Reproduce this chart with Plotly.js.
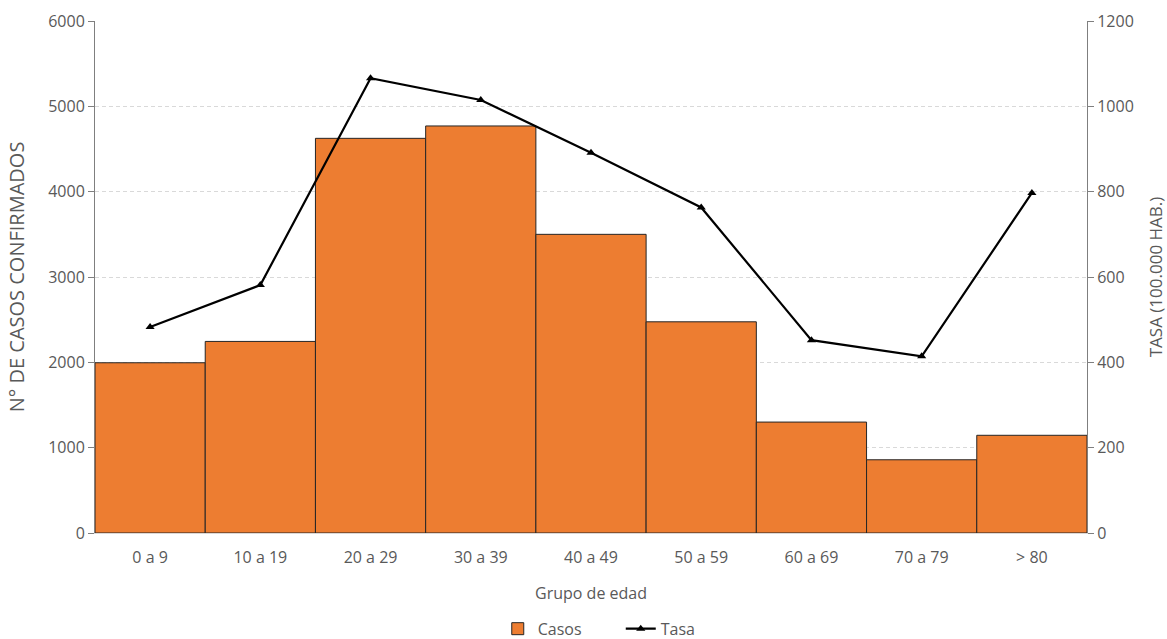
<!DOCTYPE html>
<html>
<head>
<meta charset="utf-8">
<script src="https://cdn.plot.ly/plotly-3.0.1.min.js"></script>
<style>html,body{margin:0;padding:0;background:#fff;}#chart{width:1167px;height:639px;}</style>
</head>
<body>
<div id="chart"></div>
<script>
var categories = ["0 a 9","10 a 19","20 a 29","30 a 39","40 a 49","50 a 59","60 a 69","70 a 79","> 80"];
var casos = [1995, 2245, 4625, 4770, 3500, 2475, 1300, 858, 1145];
var tasa = [483, 581, 1066, 1015, 891, 763, 452, 414, 797];
var leftTicks = [0,1000,2000,3000,4000,5000,6000];
var rightTicks = [0,200,400,600,800,1000,1200];

var fontFam = "Open Sans, Liberation Sans, sans-serif";
var grey = "#595959";

var traces = [
  {type:"bar", name:"Casos", x:categories, y:casos,
   marker:{color:"#ED7D31", line:{color:"#262626", width:1}}, yaxis:"y"},
  {type:"scatter", mode:"lines+markers", name:"Tasa", x:categories, y:tasa,
   line:{color:"#000", width:2.2}, marker:{symbol:"triangle-up", size:8, color:"#000"}, yaxis:"y2"}
];

var layout = {
  width:1167, height:639,
  margin:{l:95, r:80, t:21, b:106},
  paper_bgcolor:"#fff", plot_bgcolor:"#fff",
  bargap:0,
  font:{family:fontFam, color:grey, size:16},
  showlegend:true,
  legend:{orientation:"h", x:0.53, xanchor:"center", xref:"paper",
          yref:"container", y:0.016, yanchor:"middle",
          font:{size:16, color:grey}, traceorder:"normal", itemwidth:30,
          entrywidth:78, entrywidthmode:"pixels"},
  xaxis:{type:"category", automargin:false, showline:true, linecolor:"#d9d9d9", linewidth:1,
         ticks:"outside", ticklen:10, tickcolor:"rgba(0,0,0,0)", tickfont:{size:16, color:grey}, showgrid:false,
         title:{text:"Grupo de edad", font:{size:16, color:grey}, standoff:20}},
  yaxis:{range:[0,6000], tickvals:leftTicks, automargin:false, showline:true, linecolor:"#7f7f7f", linewidth:1,
         ticks:"outside", ticklen:6, tickcolor:"#7f7f7f",
         showgrid:true, gridcolor:"#d9d9d9", griddash:"4px,3px", gridwidth:1, zeroline:false,
         tickfont:{size:16, color:grey},
         title:{text:"N° DE CASOS CONFIRMADOS", font:{size:20, color:grey}, standoff:18}},
  yaxis2:{range:[0,1200], tickvals:rightTicks, overlaying:"y", side:"right", automargin:false,
          showline:true, linecolor:"#7f7f7f", linewidth:1,
          ticks:"outside", ticklen:6, tickcolor:"#7f7f7f",
          showgrid:false, zeroline:false, tickfont:{size:16, color:grey},
          title:{text:"TASA (100.000 HAB.)", font:{size:17, color:grey}, standoff:18}}
};

Plotly.newPlot("chart", traces, layout, {displayModeBar:false, staticPlot:true});
</script>
</body>
</html>
